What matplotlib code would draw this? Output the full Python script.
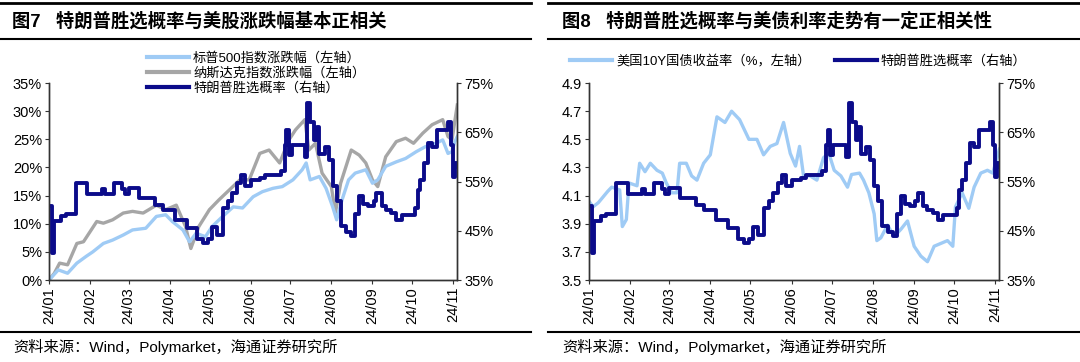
import numpy as np
import pandas as pd
import matplotlib
matplotlib.use('Agg')
import matplotlib.pyplot as plt
from matplotlib.lines import Line2D

plt.rcParams['font.family'] = ['Liberation Sans', 'Noto Sans CJK SC']
plt.rcParams['axes.unicode_minus'] = False

# 特朗普胜选概率 (%)
trump_dates = ['2024-01-01', '2024-01-03', '2024-01-05', '2024-01-10', '2024-01-14', '2024-01-21',
               '2024-01-30', '2024-02-10', '2024-02-12', '2024-02-19', '2024-02-25', '2024-02-27',
               '2024-03-01', '2024-03-09', '2024-03-21', '2024-03-27', '2024-04-05', '2024-04-14',
               '2024-04-22', '2024-04-26', '2024-04-30', '2024-05-03', '2024-05-07', '2024-05-11',
               '2024-05-15', '2024-05-18', '2024-05-22', '2024-05-25', '2024-05-28', '2024-06-01',
               '2024-06-08', '2024-06-12', '2024-06-24', '2024-06-27', '2024-06-28', '2024-06-30',
               '2024-07-02', '2024-07-12', '2024-07-14', '2024-07-16', '2024-07-19', '2024-07-21',
               '2024-07-23', '2024-07-27', '2024-07-30', '2024-08-02', '2024-08-05', '2024-08-08',
               '2024-08-12', '2024-08-16', '2024-08-19', '2024-08-22', '2024-08-25', '2024-08-29',
               '2024-09-02', '2024-09-04', '2024-09-08', '2024-09-11', '2024-09-15', '2024-09-19',
               '2024-09-23', '2024-10-01', '2024-10-03', '2024-10-05', '2024-10-07', '2024-10-10',
               '2024-10-13', '2024-10-16', '2024-10-20', '2024-10-25', '2024-10-28', '2024-10-30',
               '2024-11-01', '2024-11-02', '2024-11-04']
trump_prob = [50.0, 40.5, 47.0, 48.0, 48.5, 54.7,
              52.5, 53.5, 52.5, 54.7, 53.5, 52.5,
              53.6, 51.6, 50.3, 49.2, 47.2, 45.5,
              43.3, 42.6, 43.3, 45.8, 44.2, 49.6,
              51.0, 52.6, 54.7, 56.4, 54.0, 55.3,
              55.8, 56.4, 57.2, 62.5, 65.5, 60.4,
              62.4, 60.0, 71.0, 67.0, 63.5, 66.0,
              60.5, 62.0, 59.3, 54.0, 51.0, 46.0,
              44.8, 44.0, 48.5, 52.0, 50.5, 50.0,
              51.0, 52.6, 50.0, 49.2, 48.6, 47.2,
              48.2, 48.2, 49.6, 53.3, 55.3, 58.8,
              62.8, 62.0, 65.5, 65.5, 67.0, 62.5,
              56.0, 58.8, 58.0]

# 标普500指数涨跌幅 (%)
spx_dates = ['2024-01-01', '2024-01-08', '2024-01-15', '2024-01-22', '2024-01-29', '2024-02-03',
             '2024-02-11', '2024-02-18', '2024-02-26', '2024-03-04', '2024-03-14', '2024-03-22',
             '2024-03-29', '2024-04-03', '2024-04-11', '2024-04-16', '2024-04-21', '2024-04-28',
             '2024-05-03', '2024-05-11', '2024-05-19', '2024-05-26', '2024-06-03', '2024-06-10',
             '2024-06-18', '2024-06-25', '2024-07-03', '2024-07-10', '2024-07-13', '2024-07-16',
             '2024-07-23', '2024-07-28', '2024-08-02', '2024-08-05', '2024-08-09', '2024-08-14',
             '2024-08-19', '2024-08-27', '2024-09-01', '2024-09-05', '2024-09-11', '2024-09-19',
             '2024-09-26', '2024-10-04', '2024-10-11', '2024-10-19', '2024-10-24', '2024-10-28',
             '2024-10-31', '2024-11-02', '2024-11-04']
spx_chg = [0.0, 1.8, 1.2, 3.0, 4.2, 5.0,
           6.5, 7.1, 8.0, 8.9, 9.2, 11.3,
           11.6, 10.4, 8.9, 6.8, 8.3, 7.7,
           9.5, 11.3, 13.0, 12.8, 14.8, 15.7,
           16.3, 16.6, 17.8, 19.6, 20.8, 17.8,
           18.4, 16.3, 13.0, 10.7, 14.2, 17.8,
           19.0, 19.6, 17.2, 17.8, 20.2, 21.0,
           21.6, 22.8, 23.7, 24.3, 24.9, 22.5,
           22.8, 24.5, 25.5]

# 纳斯达克指数涨跌幅 (%)
ndx_dates = ['2024-01-01', '2024-01-05', '2024-01-09', '2024-01-15', '2024-01-22', '2024-01-27',
             '2024-02-01', '2024-02-06', '2024-02-11', '2024-02-18', '2024-02-26', '2024-03-04',
             '2024-03-12', '2024-03-22', '2024-03-29', '2024-04-06', '2024-04-13', '2024-04-17',
             '2024-04-23', '2024-05-01', '2024-05-08', '2024-05-16', '2024-05-24', '2024-05-31',
             '2024-06-08', '2024-06-15', '2024-06-23', '2024-06-30', '2024-07-05', '2024-07-12',
             '2024-07-15', '2024-07-20', '2024-07-25', '2024-08-01', '2024-08-04', '2024-08-08',
             '2024-08-16', '2024-08-22', '2024-08-27', '2024-09-01', '2024-09-05', '2024-09-11',
             '2024-09-19', '2024-09-26', '2024-10-02', '2024-10-09', '2024-10-16', '2024-10-24',
             '2024-10-28', '2024-10-31', '2024-11-04']
ndx_chg = [0.0, 1.2, 3.0, 2.7, 6.5, 6.8,
           8.6, 10.4, 10.1, 10.7, 11.9, 12.2,
           11.9, 13.3, 12.5, 13.3, 9.5, 5.6,
           9.5, 12.5, 14.2, 16.0, 17.8, 17.8,
           22.5, 23.1, 20.8, 24.9, 26.7, 28.5,
           23.1, 24.3, 19.0, 16.6, 11.9, 17.2,
           23.1, 22.2, 20.8, 17.8, 16.6, 21.9,
           24.6, 25.2, 24.3, 26.1, 27.6, 28.5,
           25.5, 24.9, 31.1]

# 美国10Y国债收益率 (%)
ust_dates = ['2024-01-01', '2024-01-04', '2024-01-08', '2024-01-15', '2024-01-18', '2024-01-24',
             '2024-01-26', '2024-01-29', '2024-01-31', '2024-02-06', '2024-02-08', '2024-02-12',
             '2024-02-16', '2024-02-21', '2024-02-25', '2024-02-28', '2024-03-03', '2024-03-07',
             '2024-03-09', '2024-03-14', '2024-03-18', '2024-03-22', '2024-03-27', '2024-04-01',
             '2024-04-06', '2024-04-12', '2024-04-17', '2024-04-23', '2024-04-30', '2024-05-06',
             '2024-05-11', '2024-05-16', '2024-05-21', '2024-05-26', '2024-05-31', '2024-06-04',
             '2024-06-07', '2024-06-10', '2024-06-15', '2024-06-20', '2024-06-25', '2024-06-29',
             '2024-07-03', '2024-07-08', '2024-07-13', '2024-07-16', '2024-07-22', '2024-07-25',
             '2024-07-29', '2024-08-02', '2024-08-04', '2024-08-07', '2024-08-12', '2024-08-17',
             '2024-08-22', '2024-08-27', '2024-09-01', '2024-09-06', '2024-09-11', '2024-09-16',
             '2024-09-21', '2024-09-26', '2024-09-30', '2024-10-02', '2024-10-07', '2024-10-12',
             '2024-10-16', '2024-10-21', '2024-10-26', '2024-10-30', '2024-11-04']
ust_10y = [4.06, 4.02, 4.05, 4.13, 4.16, 4.14,
           3.88, 3.93, 4.19, 4.17, 4.33, 4.27,
           4.33, 4.28, 4.26, 4.19, 4.12, 4.12,
           4.33, 4.33, 4.24, 4.21, 4.33, 4.39,
           4.66, 4.62, 4.70, 4.64, 4.50, 4.50,
           4.39, 4.45, 4.47, 4.62, 4.40, 4.31,
           4.45, 4.24, 4.24, 4.21, 4.37, 4.40,
           4.28, 4.24, 4.16, 4.25, 4.26, 4.21,
           4.12, 3.97, 3.78, 3.80, 3.89, 3.81,
           3.86, 3.92, 3.74, 3.67, 3.63, 3.74,
           3.76, 3.78, 3.74, 4.02, 4.12, 4.01,
           4.16, 4.26, 4.28, 4.26, 4.43]

month_ticks = pd.date_range('2024-01-01', '2024-11-01', freq='MS')
month_labels = [d.strftime('%y/%m') for d in month_ticks]
xmin, xmax = pd.Timestamp('2024-01-01'), pd.Timestamp('2024-11-04')

c_spx = '#9FCBF5'
c_ndx = '#A6A6A6'
c_trump = '#0B0B8A'
c_axis = '#333333'

td = pd.to_datetime(trump_dates)

fig = plt.figure(figsize=(10.8, 3.62), dpi=100)


def style_axes(ax, ax2):
    ax.set_xlim(xmin, xmax)
    ax.set_xticks(month_ticks)
    ax.set_xticklabels(month_labels, rotation=90, fontsize=10.5)
    ax2.set_ylim(35, 75)
    ax2.set_yticks([35, 45, 55, 65, 75])
    ax2.set_yticklabels([f'{v}%' for v in [35, 45, 55, 65, 75]], fontsize=10.5)
    for a in (ax, ax2):
        a.spines['top'].set_visible(False)
        for s in ('left', 'right', 'bottom'):
            a.spines[s].set_color(c_axis)
            a.spines[s].set_linewidth(1.0)
        a.tick_params(direction='out', length=3, width=0.8, color=c_axis, pad=2)
    ax.tick_params(axis='y', labelsize=10.5)


# ---- 图7 ----
ax1 = fig.add_axes([0.0454, 0.2265, 0.378, 0.544])
ax1b = ax1.twinx()
ax1.plot(pd.to_datetime(ndx_dates), ndx_chg, color=c_ndx, lw=2.4)
ax1.plot(pd.to_datetime(spx_dates), spx_chg, color=c_spx, lw=2.4)
ax1b.plot(td, trump_prob, color=c_trump, lw=2.8, drawstyle='steps-post')
ax1.set_ylim(0, 35)
ax1.set_yticks(np.arange(0, 36, 5))
ax1.set_yticklabels([f'{v}%' for v in range(0, 36, 5)])
style_axes(ax1, ax1b)

h1 = [Line2D([], [], color=c_spx, lw=3),
      Line2D([], [], color=c_ndx, lw=3),
      Line2D([], [], color=c_trump, lw=3)]
ax1.legend(h1, ['标普500指数涨跌幅（左轴）', '纳斯达克指数涨跌幅（左轴）', '特朗普胜选概率（右轴）'],
           loc='upper left', bbox_to_anchor=(0.136, 0.857), bbox_transform=fig.transFigure,
           frameon=False, fontsize=9.5, handlelength=3.2, handletextpad=0.3,
           labelspacing=0.18, borderpad=0, borderaxespad=0)

# ---- 图8 ----
ax2 = fig.add_axes([0.5454, 0.2265, 0.380, 0.544])
ax2b = ax2.twinx()
ax2.plot(pd.to_datetime(ust_dates), ust_10y, color=c_spx, lw=2.4)
ax2b.plot(td, trump_prob, color=c_trump, lw=2.8, drawstyle='steps-post')
ax2.set_ylim(3.5, 4.9)
ax2.set_yticks([3.5, 3.7, 3.9, 4.1, 4.3, 4.5, 4.7, 4.9])
ax2.set_yticklabels([f'{v:.1f}' for v in [3.5, 3.7, 3.9, 4.1, 4.3, 4.5, 4.7, 4.9]])
style_axes(ax2, ax2b)

h2 = [Line2D([], [], color=c_spx, lw=3), Line2D([], [], color=c_trump, lw=3)]
ax2.legend(h2, ['美国10Y国债收益率（%，左轴）', '特朗普胜选概率（右轴）'],
           loc='upper left', bbox_to_anchor=(0.528, 0.848), bbox_transform=fig.transFigure,
           frameon=False, fontsize=9.5, ncol=2, handlelength=3.2, handletextpad=0.3,
           columnspacing=1.8, borderpad=0, borderaxespad=0)

# ---- 标题、分隔线、来源 ----
def hline(y, x0, x1, lw):
    fig.add_artist(Line2D([x0, x1], [y, y], transform=fig.transFigure, color='black', lw=lw))


for x0, x1 in [(0.0, 531 / 1080), (548 / 1080, 1.0)]:
    hline(1 - 3 / 362, x0, x1, 2.0)
    hline(1 - 39 / 362, x0, x1, 1.5)
    hline(1 - 332 / 362, x0, x1, 1.5)

fig.text(12 / 1080, 1 - 21 / 362, '图7   特朗普胜选概率与美股涨跌幅基本正相关',
         fontsize=13.2, fontweight='bold', va='center', ha='left')
fig.text(562 / 1080, 1 - 21 / 362, '图8   特朗普胜选概率与美债利率走势有一定正相关性',
         fontsize=13.2, fontweight='bold', va='center', ha='left')
fig.text(13 / 1080, 1 - 347 / 362, '资料来源：Wind，Polymarket，海通证券研究所',
         fontsize=11, va='center', ha='left')
fig.text(562 / 1080, 1 - 347 / 362, '资料来源：Wind，Polymarket，海通证券研究所',
         fontsize=11, va='center', ha='left')

fig.savefig('out.png', dpi=100)
